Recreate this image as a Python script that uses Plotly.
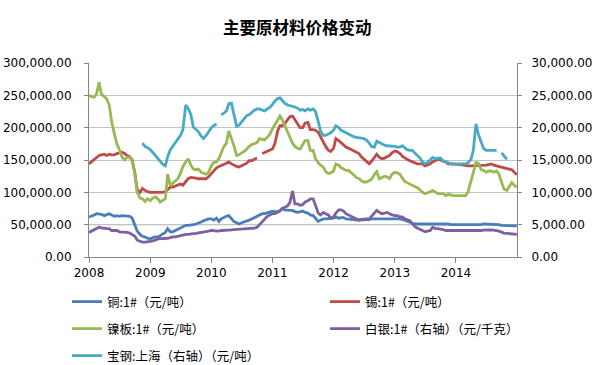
import plotly.graph_objects as go
import pandas as pd

# semi-monthly observation dates (1st and 15th of each month) + final day
dates = list(pd.date_range("2008-01-01", periods=168, freq="SMS")) + [pd.Timestamp("2014-12-31")]

# 铜:1# (元/吨) - left axis
copper = [
    62000, 63000, 65000, 67000, 67000, 66000, 64000, 66000, 67000, 65000, 63000, 64000,
    63000, 64000, 64000, 64000, 63000, 60000, 50000, 40000, 35000, 32000, 31000, 29000,
    28000, 30000, 31000, 31000, 33000, 35000, 38000, 44000, 39000, 39000, 41000, 43000,
    45000, 46000, 49000, 49000, 49000, 50000, 51000, 52000, 54000, 56000, 58000, 59000,
    59000, 57000, 60000, 55000, 59000, 61000, 63000, 64000, 59000, 55000, 53000, 51000,
    53000, 54000, 55000, 57000, 59000, 61000, 63000, 65000, 67000, 67000, 68000, 69000,
    71000, 70000, 70000, 72000, 75000, 73000, 72000, 72000, 72000, 70000, 69000, 70000,
    71000, 69000, 68000, 65000, 64000, 60000, 55000, 57000, 59000, 59000, 59000, 59000,
    60000, 62000, 60000, 61000, 61000, 59000, 59000, 59000, 58000, 57000, 57000, 57000,
    57000, 57000, 58000, 59000, 59000, 59000, 59000, 59000, 59000, 59000, 59000, 59000,
    60000, 59000, 59000, 58000, 57000, 56000, 54000, 52000, 51000, 51000, 51000, 51000,
    51000, 52000, 52000, 52000, 51000, 51000, 51000, 51000, 51000, 51000, 50000, 50000,
    50000, 50000, 49000, 49000, 49000, 49000, 49000, 50000, 50000, 50000, 50000, 51000,
    51000, 50000, 50000, 50000, 50000, 50000, 49000, 49000, 49000, 49000, 48000, 48000,
    48000,
]

# 锡:1# (元/吨) - left axis
tin = [
    144000, 147000, 151000, 154000, 157000, 158000, 159000, 157000, 159000, 158000, 158000, 160000,
    161000, 162000, 160000, 157000, 155000, 150000, 130000, 104000, 100000, 106000, 103000, 101000,
    100000, 100000, 99000, 99000, 99000, 100000, 101000, 104000, 108000, 108000, 110000, 111000,
    113000, 111000, 117000, 121000, 123000, 123000, 122000, 121000, 121000, 121000, 121000, 124000,
    129000, 134000, 138000, 140000, 141000, 143000, 145000, 147000, 144000, 142000, 140000, 139000,
    141000, 143000, 145000, 149000, 149000, 151000, 153000, None, 160000, 162000, 163000, 165000,
    167000, 175000, 195000, 203000, 203000, 206000, 212000, 217000, 218000, 212000, 206000, 200000,
    200000, 207000, 208000, 197000, 197000, 196000, 193000, 186000, 179000, 171000, 165000, 163000,
    168000, 183000, 180000, 177000, 174000, 170000, 168000, 166000, 165000, 162000, 160000, 155000,
    151000, 149000, 144000, 148000, 155000, 159000, 154000, 152000, 153000, 155000, 157000, 161000,
    164000, 163000, 160000, 156000, 153000, 151000, 149000, 147000, 145000, 144000, 144000, 144000,
    141000, 142000, 144000, 147000, 149000, 151000, 150000, 148000, 147000, 144000, 144000, 144000,
    144000, 143000, 143000, 142000, 141000, 141000, 141000, 141000, 141000, 141000, 141000, 141000,
    142000, 143000, 144000, 142000, 141000, 140000, 139000, 138000, 138000, 136000, 135000, 131000,
    127000,
]

# 镍板:1# (元/吨) - left axis
nickel = [
    250000, 248000, 247000, 252000, 270000, 252000, 248000, 245000, 235000, 210000, 190000, 175000,
    166000, 155000, 150000, 154000, 154000, 148000, 128000, 100000, 91000, 90000, 86000, 90000,
    87000, 91000, 93000, 90000, 85000, 87000, 90000, 128000, 110000, 114000, 118000, 121000,
    130000, 140000, 147000, 152000, 142000, 136000, 135000, 136000, 131000, 129000, 128000, 131000,
    141000, 146000, 147000, 152000, 162000, 170000, 176000, 195000, 183000, 173000, 157000, 158000,
    161000, 163000, 167000, 171000, 174000, 176000, 177000, 183000, 182000, 181000, 185000, 189000,
    198000, 205000, 211000, 218000, 212000, 204000, 195000, 185000, 176000, 171000, 168000, 167000,
    175000, 180000, 180000, 165000, 165000, 152000, 146000, 142000, 139000, 132000, 129000, 130000,
    133000, 144000, 142000, 138000, 136000, 134000, 134000, 131000, 127000, 123000, 121000, 118000,
    116000, 116000, 118000, 120000, 128000, 132000, 121000, 123000, 125000, 124000, 121000, 128000,
    131000, 130000, 128000, 122000, 117000, 115000, 113000, 111000, 109000, 107000, 104000, 100000,
    98000, 99000, 101000, 103000, 100000, 98000, 98000, 98000, 95000, 97000, 96000, 95000,
    95000, 95000, 95000, 95000, 95000, 101000, 118000, 133000, 146000, 145000, 135000, 134000,
    131000, 133000, 133000, 131000, 133000, 128000, 114000, 105000, 103000, 108000, 115000, 111000,
    108000,
]

# 白银:1# (右轴) (元/千克) - right axis
silver = [
    3800, 4000, 4200, 4400, 4600, 4500, 4400, 4400, 4400, 4100, 4100, 4100,
    3900, 3900, 3800, 3800, 3700, 3500, 3200, 2600, 2400, 2300, 2300, 2300,
    2400, 2500, 2600, 2800, 2800, 2800, 2900, 2900, 3000, 3100, 3100, 3200,
    3300, 3400, 3500, 3500, 3600, 3600, 3650, 3700, 3750, 3800, 3900, 4000,
    4100, 4050, 4000, 4000, 4100, 4100, 4100, 4100, 4200, 4250, 4270, 4270,
    4270, 4300, 4300, 4370, 4370, 4450, 4600, 5000, 5600, 6000, 6300, 6500,
    6700, 6700, 6900, 7100, 7500, 7700, 7900, 8400, 10200, 8200, 8200, 8000,
    8100, 8500, 8700, 9000, 9000, 8000, 6800, 6500, 6900, 6700, 6500, 6000,
    6200, 6800, 7300, 7300, 7100, 6700, 6500, 6300, 6100, 5900, 5700, 5800,
    5900, 5900, 5900, 6300, 6800, 7200, 6900, 6700, 6800, 6900, 6700, 6500,
    6400, 6400, 6200, 6200, 5900, 5800, 5600, 5200, 4700, 4500, 4300, 4100,
    3900, 4000, 4100, 4600, 4400, 4400, 4350, 4250, 4100, 4100, 4100, 4000,
    4000, 4050, 4100, 4100, 4100, 4050, 4000, 4050, 4100, 4100, 4100, 4150,
    4200, 4200, 4200, 4150, 4100, 4000, 3850, 3700, 3650, 3600, 3500, 3500,
    3500,
]

# 宝钢:上海 (右轴) (元/吨) - right axis
baosteel = [
    None, None, None, None, None, None, None, None, None, None, None, None,
    None, None, None, None, None, None, None, None, None, 17600, 17100, 16900,
    16600, 16200, 15700, 15300, 14900, 14400, 14100, 15500, 16600, 17100, 17800, 18400,
    18800, 19700, 23500, 23000, 22000, 20100, 19800, 19400, 18700, 18300, 18800, 19400,
    20000, 20300, 20600, None, 22000, 22200, 22600, 23700, 23800, 22300, 20200, 20400,
    20900, 21300, 21900, 22000, 22400, 22700, 22900, 22900, 22700, 22600, 22900, 23100,
    23600, 24100, 24500, 24600, 24200, 23800, 23500, 23400, 23400, 23200, 23000, 22700,
    22800, 22600, 22900, 22700, 22900, 22500, 21000, 19500, 18800, 18800, 19000, 19200,
    19600, 20300, 20000, 19600, 19400, 19200, 18900, 18800, 18600, 18500, 18500, 18400,
    18300, 18100, 17600, 17100, 17000, 17900, 17700, 17500, 17300, 17200, 17200, 17100,
    17100, 17000, 17000, 17200, 16900, 16600, 16500, 16500, 16100, 15700, 15300, 14700,
    14400, 14600, 15000, 15400, 15200, 15300, 15300, 14900, 14700, 14500, 14400, 14400,
    14400, 14400, 14400, 14400, 14400, 14600, 15100, 16500, 20600, 19000, 17900, 16800,
    16500, 16500, 16500, 16500, 16500, None, 16100, 15600, 15100, None, None, None,
    None,
]

for s in (copper, tin, nickel, silver, baosteel):
    assert len(s) == len(dates), len(s)

names = [
    "铜:1#（元/吨）",
    "锡:1#（元/吨）",
    "镍板:1#（元/吨）",
    "白银:1#（右轴）（元/千克）",
    "宝钢:上海（右轴）（元/吨）",
]
year_ticks = ["2008", "2009", "2010", "2011", "2012", "2013", "2014"]

series = [
    (copper, "#4A7EBB", "y", "legend"),
    (tin, "#BE4B48", "y", "legend2"),
    (nickel, "#98B954", "y", "legend3"),
    (silver, "#7D60A0", "y2", "legend4"),
    (baosteel, "#46AAC5", "y2", "legend5"),
]

fig = go.Figure()
for (vals, color, yax, leg), name in zip(series, names):
    fig.add_trace(go.Scatter(
        x=dates, y=vals, name=name, mode="lines", yaxis=yax, legend=leg,
        line=dict(color=color, width=2.8), connectgaps=False,
    ))

tick_font = dict(family="DejaVu Sans", size=12, color="#000000")
axis_col = "#868686"

def lx(px):
    return (px - 89) / 428.0

def ly(py):
    return (257 - py) / 194.0

leg_font = dict(family="Noto Sans CJK SC", size=12.5, color="#000000")
leg_common = dict(xanchor="left", yanchor="middle", bgcolor="rgba(0,0,0,0)",
                  font=leg_font, borderwidth=0, itemwidth=30)

fig.update_layout(
    width=598, height=365,
    margin=dict(l=89, r=81, t=63, b=108, autoexpand=False),
    paper_bgcolor="white", plot_bgcolor="white",
    title=dict(text="主要原材料价格变动", x=0.497, xref="container", xanchor="center",
               y=1 - 28 / 365, yref="container", yanchor="middle",
               font=dict(family="Noto Sans CJK SC", size=16.5, color="#000000", weight="bold")),
    xaxis=dict(type="date", range=["2008-01-01", "2015-01-01"],
               tickvals=[y + "-01-01" for y in year_ticks], ticktext=year_ticks,
               showgrid=False, showline=True,
               linecolor=axis_col, linewidth=1, ticks="outside", ticklen=5,
               tickcolor=axis_col, tickfont=tick_font, automargin=False, zeroline=False),
    yaxis=dict(range=[0, 300000], dtick=50000, tickformat=",.2f", showgrid=True,
               gridcolor="#C4C4C4", gridwidth=1, showline=True, linecolor=axis_col,
               ticks="outside", ticklen=4, tickcolor=axis_col, tickfont=tick_font,
               ticklabelstandoff=10, automargin=False, zeroline=False),
    yaxis2=dict(range=[0, 30000], dtick=5000, tickformat=",.2f", overlaying="y",
                side="right", showgrid=False, showline=True, linecolor=axis_col,
                ticks="outside", ticklen=4, tickcolor=axis_col, tickfont=tick_font,
                ticklabelstandoff=7, automargin=False, zeroline=False),
    shapes=[dict(type="line", xref="paper", x0=0, x1=1, yref="y", y0=50000, y1=50000,
                 line=dict(color="#808080", width=1), layer="below")],
    legend=dict(x=lx(67), y=ly(302), **leg_common),
    legend2=dict(x=lx(325), y=ly(302), **leg_common),
    legend3=dict(x=lx(67), y=ly(329), **leg_common),
    legend4=dict(x=lx(325), y=ly(329), **leg_common),
    legend5=dict(x=lx(67), y=ly(356), **leg_common),
    showlegend=True,
)

fig.write_html("out.html", config={"displayModeBar": False},
               post_script="document.body.style.margin='0px';")
